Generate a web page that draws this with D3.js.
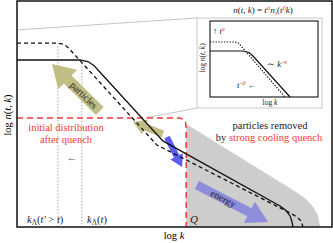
<!DOCTYPE html>
<html>
<head>
<meta charset="utf-8">
<script src="https://cdn.jsdelivr.net/npm/d3@7"></script>
<style>
  body { margin: 0; background: #fff; }
  svg { display: block; }
</style>
</head>
<body>
<script>
// DATA (log k, log n) in arbitrary units 0..10
const curveNow = [[0,7.39],[2.0,7.39],[2.25,7.32],[2.44,7.15],[2.63,6.86],[4.63,3.81],[8.35,0.93],[8.54,0.73],[8.67,0.49],[8.73,0.22],[8.76,0]];
const curveLater = [[0,8.14],[1.30,8.14],[1.49,8.08],[1.65,7.90],[1.78,7.70],[4.44,3.63],[8.67,0.62],[8.89,0.44],[9.02,0.27],[9.08,0]];
const initialDist = [[0,4.82],[5.17,4.82],[5.29,4.76],[5.35,4.62],[5.37,4.42],[5.37,0]];
const removedRegion = [[5.37,4.56],[8.86,1.55],[9.17,1.24],[9.40,0.88],[9.56,0.49],[9.62,0],[5.37,0]];
const kLambda = [1.30, 2.06];
const kLambdaTop = [8.14, 7.39];
const zoomFrom = [[0,8.72],[4.06,4.82]];
const arrowFrom = [[2.63,5.13],[4.63,4.11],[4.76,3.98],[5.71,1.86]];
const arrowTo = [[1.11,7.21],[3.68,4.65],[5.24,2.65],[7.97,0.22]];
const arrowText = ["particles", "", "", "energy"];
// inset curves
const insetNow = [[0,6.05],[3.06,6.05],[3.61,5.86],[3.98,5.39],[7.41,0]];
const insetLater = [[0,7.24],[2.31,7.24],[2.69,7.04],[2.96,6.58],[6.94,0]];

const W = 333, H = 243;
const margin = {top: 1, right: 1, bottom: 16, left: 17};
const red = "#f53838";
const FONT = "Liberation Serif";

const svg = d3.select("body").append("svg").attr("width", W).attr("height", H);

const x = d3.scaleLinear().domain([0,10]).range([margin.left, W - margin.right]);
const y = d3.scaleLinear().domain([0,10]).range([H - margin.bottom, margin.top]);
const line = d3.line().x(d => x(d[0])).y(d => y(d[1]));

// rich text helper: parts = [[text, flags]] flags: i italic, s sup, b sub, r red
function rich(sel, parts, size) {
  let shift = 0;
  parts.forEach(p => {
    const f = p[1] || "";
    const ts = sel.append("tspan").text(p[0]);
    let want = 0;
    if (f.includes("s")) want = -size*0.38;
    if (f.includes("b")) want = size*0.22;
    if (want !== shift) { ts.attr("dy", want - shift); shift = want; }
    if (f.includes("s") || f.includes("b")) ts.attr("font-size", size*0.7);
    if (f.includes("i")) ts.attr("font-style", "italic");
    if (f.includes("r")) ts.attr("fill", red);
  });
  return sel;
}

// removed region
svg.append("path").attr("d", line(removedRegion) + "Z").attr("fill", "#cdcdcd");

// zoom lines to inset
const inset = {x0: 197, y0: 18, x1: 322, y1: 108};
zoomFrom.forEach((p, i) => {
  svg.append("line")
    .attr("x1", x(p[0])).attr("y1", y(p[1]))
    .attr("x2", inset.x0).attr("y2", i == 0 ? inset.y0 : inset.y1)
    .attr("stroke", "#bdbdbd").attr("stroke-width", 0.9);
});

// dotted k_lambda lines
kLambda.forEach((k, i) => {
  svg.append("line")
    .attr("x1", x(k)).attr("x2", x(k))
    .attr("y1", y(kLambdaTop[i])).attr("y2", y(0))
    .attr("stroke", "#999").attr("stroke-width", 1).attr("stroke-dasharray", "1.2,2");
});

// arrows
function arrowPoly(p0, p1, w, hw, hl) {
  const dx = p1[0]-p0[0], dy = p1[1]-p0[1], L = Math.hypot(dx, dy);
  const ux = dx/L, uy = dy/L, nx = -uy, ny = ux;
  const bx = p1[0]-ux*hl, by = p1[1]-uy*hl;
  return [
    [p0[0]+nx*w/2, p0[1]+ny*w/2], [bx+nx*w/2, by+ny*w/2], [bx+nx*hw/2, by+ny*hw/2],
    p1, [bx-nx*hw/2, by-ny*hw/2], [bx-nx*w/2, by-ny*w/2], [p0[0]-nx*w/2, p0[1]-ny*w/2]
  ];
}
const arrowStyle = [
  {fill: "#c2bc85", w: 11, hw: 27, hl: 22},
  {fill: "#c2bc85", w: 7, hw: 16, hl: 13},
  {fill: "#5b5bf7", w: 6, hw: 14, hl: 12},
  {fill: "#8d8ddc", w: 9, hw: 24, hl: 21}
];
arrowFrom.forEach((a, i) => {
  const p0 = [x(a[0]), y(a[1])], p1 = [x(arrowTo[i][0]), y(arrowTo[i][1])];
  const s = arrowStyle[i];
  svg.append("path").attr("d", d3.line()(arrowPoly(p0, p1, s.w, s.hw, s.hl)) + "Z").attr("fill", s.fill);
  if (arrowText[i]) {
    let ang = Math.atan2(p1[1]-p0[1], p1[0]-p0[0]) * 180 / Math.PI;
    if (Math.abs(ang) > 90) ang += 180;
    const L = Math.hypot(p1[0]-p0[0], p1[1]-p0[1]);
    const t = (L - s.hl) / 2 / L;
    const cx = p0[0] + (p1[0]-p0[0])*t, cy = p0[1] + (p1[1]-p0[1])*t;
    svg.append("text").attr("transform", `translate(${cx},${cy}) rotate(${ang})`)
      .attr("text-anchor", "middle").attr("dy", "0.32em")
      .attr("font-size", 10).attr("fill", "#222").text(arrowText[i]);
  }
});

// initial distribution (red dashed)
svg.append("path").attr("d", line(initialDist)).attr("fill", "none")
  .attr("stroke", red).attr("stroke-width", 1.5).attr("stroke-dasharray", "6,4");

// curves
svg.append("path").attr("d", line(curveLater)).attr("fill", "none")
  .attr("stroke", "#111").attr("stroke-width", 1.3).attr("stroke-dasharray", "4,3");
svg.append("path").attr("d", line(curveNow)).attr("fill", "none")
  .attr("stroke", "#111").attr("stroke-width", 1.3);

// frame
svg.append("rect").attr("x", margin.left).attr("y", margin.top)
  .attr("width", W - margin.left - margin.right).attr("height", H - margin.top - margin.bottom)
  .attr("fill", "none").attr("stroke", "#111").attr("stroke-width", 1.5);

// axis labels
rich(svg.append("text").attr("x", 174).attr("y", 239).attr("text-anchor", "middle").attr("font-size", 10.5),
  [["log ",""],["k","i"]], 10.5);
rich(svg.append("text").attr("transform", "translate(11,115) rotate(-90)").attr("text-anchor", "middle").attr("font-size", 10.5),
  [["log ",""],["n","i"],["(",""],["t","i"],[", ",""],["k","i"],[")",""]], 10.5);

// annotations
svg.append("text").attr("x", 66).attr("y", 131).attr("text-anchor", "middle").attr("font-size", 10.5)
  .attr("fill", red).text("initial distribution");
svg.append("text").attr("x", 66).attr("y", 143).attr("text-anchor", "middle").attr("font-size", 10.5)
  .attr("fill", red).text("after quench");
svg.append("text").attr("x", 72).attr("y", 161).attr("text-anchor", "middle").attr("font-size", 11)
  .attr("fill", "#666").text("←");
svg.append("text").attr("x", 270).attr("y", 129).attr("text-anchor", "middle").attr("font-size", 10.5)
  .attr("fill", "#222").text("particles removed");
rich(svg.append("text").attr("x", 269).attr("y", 141).attr("text-anchor", "middle").attr("font-size", 10.5).attr("fill", "#222"),
  [["by ",""],["strong cooling quench","r"]], 10.5);
svg.append("text").attr("x", 190).attr("y", 223).attr("font-size", 11).attr("font-style", "italic")
  .attr("fill", "#222").text("Q");
rich(svg.append("text").attr("x", 27).attr("y", 223).attr("font-size", 10.5).attr("fill", "#222"),
  [["k","i"],["Λ","b"],["(",""],["t′","i"],[" > ",""],["t","i"],[")",""]], 10.5);
rich(svg.append("text").attr("x", 87).attr("y", 223).attr("font-size", 10.5).attr("fill", "#222"),
  [["k","i"],["Λ","b"],["(",""],["t","i"],[")",""]], 10.5);

// INSET
const gi = svg.append("g");
gi.append("rect").attr("x", inset.x0).attr("y", inset.y0)
  .attr("width", inset.x1 - inset.x0).attr("height", inset.y1 - inset.y0)
  .attr("fill", "#fff").attr("stroke", "#c8c8c8").attr("stroke-width", 1);
const ix = d3.scaleLinear().domain([0,10]).range([210, 318]);
const iy = d3.scaleLinear().domain([0,10]).range([97, 21]);
const iline = d3.line().x(d => ix(d[0])).y(d => iy(d[1]));
gi.append("path").attr("d", iline(insetLater)).attr("fill", "none")
  .attr("stroke", "#111").attr("stroke-width", 1.2).attr("stroke-dasharray", "1.3,1.5");
gi.append("path").attr("d", iline(insetNow)).attr("fill", "none")
  .attr("stroke", "#111").attr("stroke-width", 1.2);
gi.append("rect").attr("x", ix(0)).attr("y", iy(10))
  .attr("width", ix(10) - ix(0)).attr("height", iy(0) - iy(10))
  .attr("fill", "none").attr("stroke", "#111").attr("stroke-width", 1.1);

rich(gi.append("text").attr("x", 263).attr("y", 13).attr("text-anchor", "middle").attr("font-size", 9).attr("fill", "#222"),
  [["n","i"],["(",""],["t","i"],[", ",""],["k","i"],[") = ",""],["t","i"],["α","sir"],["n","i"],["s","bir"],["(",""],["t","i"],["β","sir"],["k","i"],[")",""]], 9);
rich(gi.append("text").attr("x", 213).attr("y", 34).attr("font-size", 8.5).attr("fill", "#222"),
  [["↑ ",""],["t","i"],["α","sir"]], 8.5);
rich(gi.append("text").attr("x", 267).attr("y", 67).attr("font-size", 8.5).attr("fill", "#222"),
  [["∼ ",""],["k","i"],["−","s"],["κ","sir"]], 8.5);
rich(gi.append("text").attr("x", 237).attr("y", 88).attr("font-size", 8.5).attr("fill", "#222"),
  [["t","i"],["−","s"],["β","sir"],["  ←",""]], 8.5);
rich(gi.append("text").attr("x", 270).attr("y", 105).attr("text-anchor", "middle").attr("font-size", 7.5).attr("fill", "#222"),
  [["log ",""],["k","i"]], 7.5);
rich(gi.append("text").attr("transform", "translate(205,58) rotate(-90)").attr("text-anchor", "middle").attr("font-size", 7.5).attr("fill", "#222"),
  [["log ",""],["n","i"],["(",""],["t","i"],[", ",""],["k","i"],[")",""]], 7.5);

// serif everywhere
svg.selectAll("text").attr("font-family", FONT);
</script>
</body>
</html>
